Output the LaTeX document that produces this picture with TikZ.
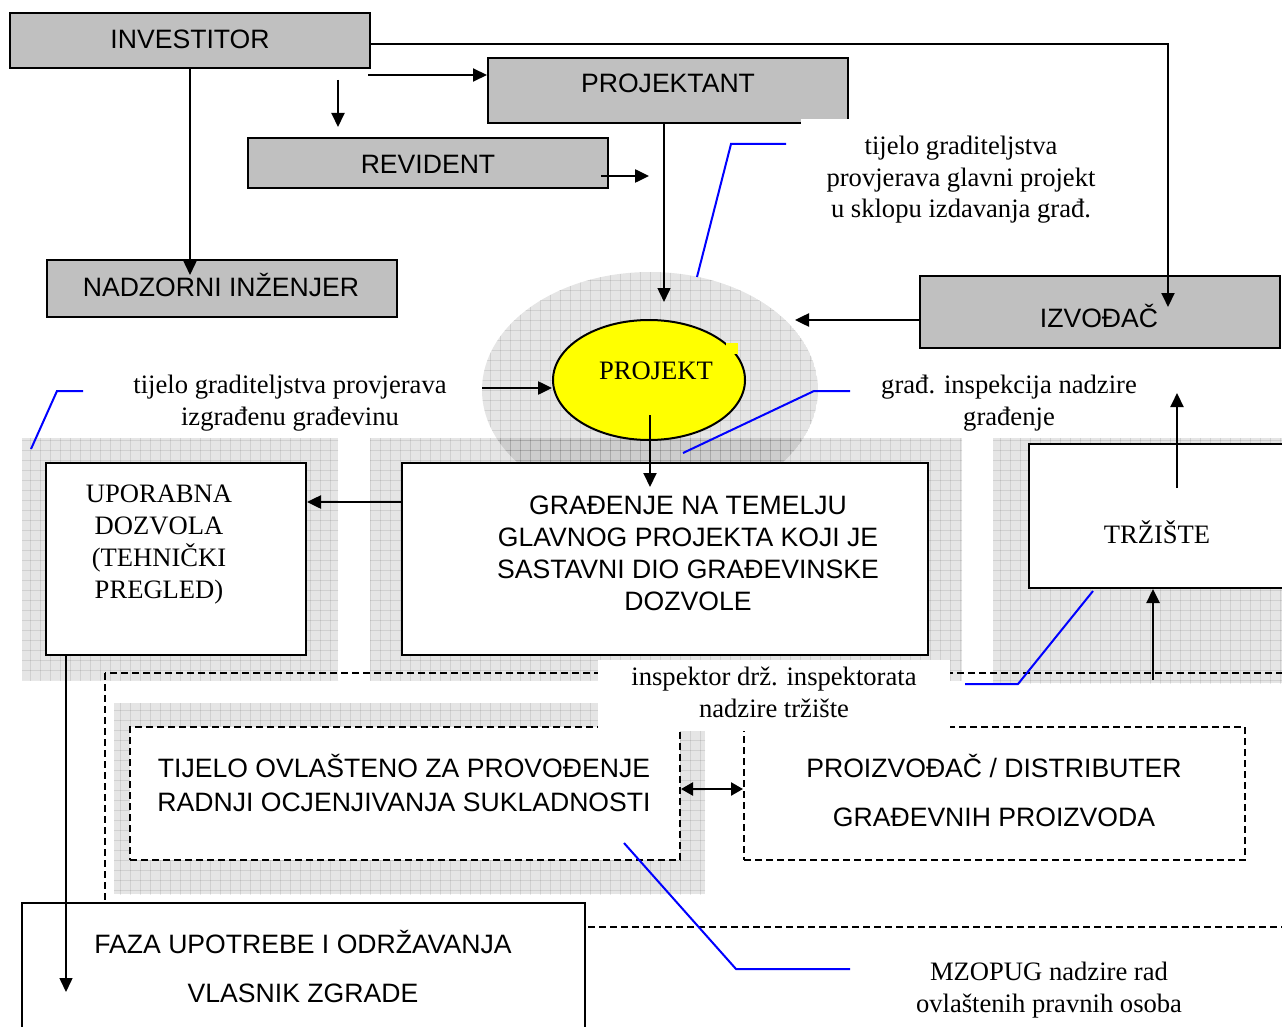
\documentclass[tikz,border=0pt]{standalone}
\usepackage{fontspec}
\setmainfont{Liberation Serif}
\setsansfont{Liberation Sans}
\usetikzlibrary{arrows.meta,calc,shapes.geometric}
\definecolor{boxgray}{HTML}{C0C0C0}
\definecolor{calloutblue}{HTML}{0000FF}
\definecolor{projyellow}{HTML}{FFFF00}
\tikzset{
  greybox/.style={draw=black, line width=2pt, fill=boxgray, inner sep=0pt},
  whitebox/.style={draw=black, line width=2pt, fill=white, inner sep=0pt},
  dashbox/.style={draw=black, line width=2pt, dash pattern=on 7pt off 4pt, fill=white, inner sep=0pt},
  bigdash/.style={draw=black, line width=2pt, dash pattern=on 7pt off 4pt},
  whitebg/.style={fill=white, draw=none, inner sep=0pt},
  sanstext/.style={font=\sffamily\fontsize{26.6}{32}\selectfont, inner sep=0pt, anchor=base},
  seriftext/.style={font=\rmfamily\fontsize{26.6}{32}\selectfont, inner sep=0pt, anchor=base},
  conn/.style={line width=2pt, -{Triangle[length=14pt,width=13pt]}},
  thinconn/.style={line width=1.5pt, -{Triangle[length=14pt,width=13pt]}},
  dblconn/.style={line width=2.5pt, {Triangle[length=12pt,width=13pt]}-{Triangle[length=12pt,width=13pt]}},
  callout/.style={draw=calloutblue, line width=2pt},
  patchfill/.style={fill=black, fill opacity=0.1},
  gridline/.style={draw=black, draw opacity=0.09, line width=0.9pt},
}
\newcommand\gridpatch[1]{%
  \begin{scope}
    \clip #1;
    \fill[patchfill] #1;
    \foreach \gx in {0,10,...,1290} {\draw[gridline] (\gx,0) -- (\gx,1030);}
    \foreach \gy in {0,10,...,1030} {\draw[gridline] (0,\gy) -- (1290,\gy);}
  \end{scope}}
\begin{document}
\begin{tikzpicture}[x=1pt,y=-1pt]
\useasboundingbox (0,0) rectangle (1282,1027);
\fill[white] (0,0) rectangle (1282,1027);

% grey gridded backgrounds
\gridpatch{(650,390) ellipse [x radius=168, y radius=118]}
\gridpatch{(22,438) rectangle (338,680)}
\gridpatch{(370,438) rectangle (962,680)}
\gridpatch{(993,438) rectangle (1300,683)}
\gridpatch{(114,703) rectangle (705,894)}

% big dashed region
\draw[bigdash] (105,673) rectangle (1320,927);

% dashed boxes
\node[dashbox, minimum width=550pt, minimum height=133pt] (tij) at (405,793.5) {};
\node[dashbox, minimum width=501pt, minimum height=133pt] (pro) at (994.5,793.5) {};

% white label background (lower)
\node[whitebg, minimum width=352pt, minimum height=71pt] (bg2) at (774,695.5) {};

% solid boxes
\node[greybox, minimum width=360pt, minimum height=55pt] (inv) at (190,40.5) {};
\node[greybox, minimum width=360pt, minimum height=65pt] (pkt) at (668,90.5) {};
\node[greybox, minimum width=360pt, minimum height=50pt] (rev) at (428,163) {};
\node[greybox, minimum width=350pt, minimum height=57pt] (nadz) at (222,288.5) {};
\node[greybox, minimum width=360pt, minimum height=72pt] (izv) at (1100,312) {};
\node[whitebox, minimum width=260pt, minimum height=192pt] (upo) at (176,559) {};
\node[whitebox, minimum width=526pt, minimum height=192pt] (grad) at (665,559) {};
\node[whitebox, minimum width=266pt, minimum height=144pt] (trz) at (1162,516) {};
\node[whitebox, minimum width=563pt, minimum height=135pt] (faza) at (303.5,970.5) {};

% white label background (upper), hides PROJEKTANT corner
\node[whitebg, minimum width=319pt, minimum height=113pt] (bg1) at (960.5,175.5) {};

% PROJEKT ellipse
\node[ellipse, draw=black, line width=2pt, fill=projyellow, minimum width=192pt, minimum height=120pt, inner sep=0pt] (proj) at (649,380) {};
\fill[projyellow] (726,343) rectangle (738,354);

% coordinates for free ends
\coordinate (nadzIn) at (190,275);
\coordinate (invR) at (368,75);
\coordinate (revA) at (338,80);
\coordinate (revB) at (338,127);
\coordinate (revOut) at (601,176);
\coordinate (revTip) at (649,176);
\coordinate (pktOut) at (664,123);
\coordinate (projTop) at (664,302);
\coordinate (invOut) at (370,44);
\coordinate (izvIn) at (1168,307);
\coordinate (izvOut) at (920,320);
\coordinate (projR) at (795,320);
\coordinate (lblIn) at (482,388);
\coordinate (projOut) at (650,415);
\coordinate (gradIn) at (650,487);
\coordinate (gu) at (0,502);
\coordinate (upoOut) at (66,655);
\coordinate (fazaTip) at (66,992);
\coordinate (trzOut) at (1177,488);
\coordinate (trzUp) at (1177,393);
\coordinate (trzIn0) at (1153,680);
\coordinate (dbl) at (0,789);

% connectors
\draw[thinconn] (inv.south -| nadzIn) -- (nadzIn);
\draw[conn] (invR) -- (pkt.west |- invR);
\draw[conn] (revA) -- (revB);
\draw[line width=2.5pt, -{Triangle[length=14pt,width=13pt]}] (revOut) -- (revTip);
\draw[thinconn] (pktOut) -- (projTop);
\draw[conn] (invOut) -| (izvIn);
\draw[line width=2.5pt, -{Triangle[length=14pt,width=13pt]}] (izvOut) -- (projR);
\draw[line width=2.5pt, -{Triangle[length=14pt,width=13pt]}] (lblIn) -- (proj.west |- lblIn);
\draw[conn] (projOut) -- (gradIn);
\draw[line width=2.5pt, -{Triangle[length=14pt,width=13pt]}] (grad.west |- gu) -- (upo.east |- gu);
\draw[thinconn] (upoOut) -- (fazaTip);
\draw[conn] (trzOut) -- (trzUp);
\draw[line width=2.5pt, -{Triangle[length=14pt,width=13pt]}] (trzIn0) -- (trz.south -| trzIn0);
\draw[dblconn] (tij.east |- dbl) -- (pro.west |- dbl);

% blue callouts
\draw[callout] (786,144) -- (731,144) -- (697,277);
\draw[callout] (83,391) -- (57,391) -- (31,449);
\draw[callout] (850,391) -- (814,391) -- (683,453);
\draw[callout] (965,684) -- (1018,684) -- (1093,591);
\draw[callout] (850,969) -- (736,969) -- (624,843);

% box texts
\node[sanstext] (invT) at (190,49) {INVESTITOR};
\node[sanstext] (pktT) at (668,93) {PROJEKTANT};
\node[sanstext] (revT) at (428,174) {REVIDENT};
\node[sanstext] (nadzT) at (221,296) {NADZORNI INŽENJER};
\node[sanstext] (izvT) at (1099,327) {IZVOĐAČ};
\node[seriftext] (projT) at (656,379) {PROJEKT};
\node[seriftext] (upoT1) at (159,502) {UPORABNA};
\node[seriftext] (upoT2) at (159,534) {DOZVOLA};
\node[seriftext] (upoT3) at (159,566) {(TEHNIČKI};
\node[seriftext] (upoT4) at (159,598) {PREGLED)};
\node[sanstext] (gradT1) at (688,514) {GRAĐENJE NA TEMELJU};
\node[sanstext] (gradT2) at (688,546) {GLAVNOG PROJEKTA KOJI JE};
\node[sanstext] (gradT3) at (688,578) {SASTAVNI DIO GRAĐEVINSKE};
\node[sanstext] (gradT4) at (688,610) {DOZVOLE};
\node[seriftext] (trzT) at (1157,543) {TRŽIŠTE};
\node[sanstext] (tijT1) at (404,777) {TIJELO OVLAŠTENO ZA PROVOĐENJE};
\node[sanstext] (tijT2) at (404,811) {RADNJI OCJENJIVANJA SUKLADNOSTI};
\node[sanstext] (proT1) at (994,777) {PROIZVOĐAČ / DISTRIBUTER};
\node[sanstext] (proT2) at (994,826) {GRAĐEVNIH PROIZVODA};
\node[sanstext] (fazaT1) at (303,953) {FAZA UPOTREBE I ODRŽAVANJA};
\node[sanstext] (fazaT2) at (303,1002) {VLASNIK ZGRADE};

% labels
\node[seriftext] (l1a) at (961,155) {tijelo graditeljstva};
\node[seriftext] (l1b) at (961,187) {provjerava glavni projekt};
\node[seriftext] (l1c) at (961,218) {u sklopu izdavanja građ.};
\node[seriftext] (l2a) at (290,393) {tijelo graditeljstva provjerava};
\node[seriftext] (l2b) at (290,425) {izgrađenu građevinu};
\node[seriftext] (l3a) at (1009,393) {građ. inspekcija nadzire};
\node[seriftext] (l3b) at (1009,425) {građenje};
\node[seriftext] (l4a) at (774,685) {inspektor drž. inspektorata};
\node[seriftext] (l4b) at (774,717) {nadzire tržište};
\node[seriftext] (l5a) at (1049,980) {MZOPUG nadzire rad};
\node[seriftext] (l5b) at (1049,1012) {ovlaštenih pravnih osoba};
\end{tikzpicture}
\end{document}
